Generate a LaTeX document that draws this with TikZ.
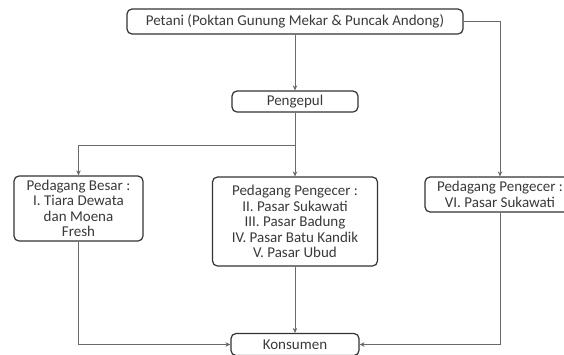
\documentclass[tikz,border=0pt]{standalone}
\usepackage{fontspec}
\setmainfont{Carlito}
\usepackage{tikz}
\usetikzlibrary{arrows.meta, positioning, calc}
\definecolor{boxline}{HTML}{333333}
\definecolor{wire}{HTML}{6A6A6A}
\definecolor{txt}{HTML}{3A3A3A}
\tikzset{
  box/.style={draw=boxline, line width=1.2pt, rounded corners=5pt, align=center, text=txt,
    font=\fontsize{15}{15.5}\selectfont, inner sep=1pt},
  arr/.style={-{Stealth[length=5pt,width=4.5pt]}, draw=wire, line width=0.7pt},
}

\begin{document}
\begin{tikzpicture}[x=1pt,y=-1pt]
  \clip (0,0) rectangle (564,354);
  \fill[white] (0,0) rectangle (564,354);
  \node[box, minimum width=336pt, minimum height=25pt] (petani) at (295,21.5)
    {Petani (Poktan Gunung Mekar \& Puncak Andong)};
  \node[box, minimum width=126pt, minimum height=21pt] (pengepul) at (295,101.5) {Pengepul};
  \node[box, minimum width=129pt, minimum height=65pt] (besar) at (78.5,208.5)
    {Pedagang Besar :\\I. Tiara Dewata\\dan Moena\\Fresh};
  \node[box, minimum width=165pt, minimum height=89pt] (pengecer) at (295,221.5)
    {Pedagang Pengecer :\\II. Pasar Sukawati\\III. Pasar Badung\\IV. Pasar Batu Kandik\\V. Pasar Ubud};
  \node[box, minimum width=150pt, minimum height=35pt] (pengecerb) at (500,194.5)
    {Pedagang Pengecer :\\VI. Pasar Sukawati};
  \node[box, minimum width=128pt, minimum height=22pt] (konsumen) at (295,344.5) {Konsumen};
  \draw[arr] (petani) -- (pengepul);
  \draw[arr] (petani.east) -| (pengecerb.north);
  \draw[arr] (pengepul.south) -- (pengecer.north);
  \draw[arr] (pengepul.south) -- ++(0,33) -| (besar.north);
  \draw[arr] (pengecer.south) -- (konsumen.north);
  \draw[arr] (besar.south) |- (konsumen.west);
  \draw[arr] (pengecerb.south) |- (konsumen.east);
\end{tikzpicture}
\end{document}
